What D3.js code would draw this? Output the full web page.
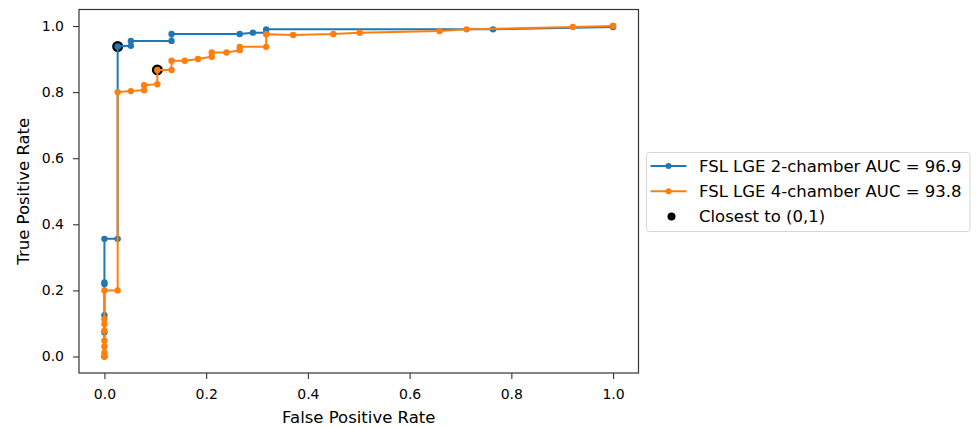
<!DOCTYPE html>
<html lang="en">
<head>
    <meta charset="utf-8">
    <title>ROC curves</title>
    <script src="https://cdn.jsdelivr.net/npm/d3@7"></script>
    <style>
        body {margin: 0; background: #fff;}
        text {font-family: "DejaVu Sans", sans-serif; fill: #000;}
    </style>
</head>
<body>
<script>
    // ROC points
    const fpr2ch = [0, 0, 0, 0, 0, 0, 0.026, 0.026, 0.052, 0.052, 0.132, 0.132, 0.266, 0.292, 0.318, 0.318, 0.764, 1.0, 1.0];
    const tpr2ch = [0, 0.073, 0.125, 0.219, 0.224, 0.356, 0.356, 0.938, 0.94, 0.955, 0.955, 0.976, 0.976, 0.98, 0.98, 0.99, 0.99, 0.997, 1.0];

    const fpr4ch = [0, 0, 0, 0, 0, 0, 0, 0, 0.026, 0.026, 0.052, 0.078, 0.078, 0.104, 0.104, 0.132, 0.132, 0.158, 0.184,
                    0.211, 0.211, 0.24, 0.266, 0.266, 0.318, 0.318, 0.371, 0.45, 0.502, 0.659, 0.712, 0.921, 1.0];
    const tpr4ch = [0, 0.012, 0.03, 0.048, 0.078, 0.098, 0.113, 0.2, 0.2, 0.8, 0.803, 0.806, 0.821, 0.824, 0.867, 0.867, 0.895, 0.895, 0.9,
                    0.907, 0.92, 0.92, 0.927, 0.937, 0.937, 0.975, 0.973, 0.976, 0.98, 0.985, 0.99, 0.997, 1.0];

    // points closest to (0,1)
    const closestFpr = [0.026, 0.104];
    const closestTpr = [0.938, 0.867];

    const seriesNames = ["FSL LGE 2-chamber AUC = 96.9", "FSL LGE 4-chamber AUC = 93.8"];
    const seriesColors = ["#1f77b4", "#ff7f0e"];
    const closestName = "Closest to (0,1)";
    const tickValues = [0, 0.2, 0.4, 0.6, 0.8, 1.0];

    const dim = {width: 977, height: 427};
    const box = {left: 79, right: 638.5, top: 9.5, bottom: 373};

    const x = d3.scaleLinear().domain([-0.05, 1.05]).range([box.left, box.right]);
    const y = d3.scaleLinear().domain([-0.05, 1.05]).range([box.bottom, box.top]);
    const fmt = d3.format(".1f");

    const svg = d3.select("body").append("svg")
                  .attr("width", dim.width)
                  .attr("height", dim.height);

    svg.append("rect").attr("width", dim.width).attr("height", dim.height).attr("fill", "#fff");

    // axes
    const xAxis = svg.append("g")
        .attr("transform", `translate(0, ${box.bottom})`)
        .call(d3.axisBottom(x).tickValues(tickValues).tickFormat(fmt).tickSize(6).tickPadding(10).tickSizeOuter(0));
    const yAxis = svg.append("g")
        .attr("transform", `translate(${box.left}, 0)`)
        .call(d3.axisLeft(y).tickValues(tickValues).tickFormat(fmt).tickSize(6).tickPadding(9).tickSizeOuter(0));

    [xAxis, yAxis].forEach(g => {
        g.select(".domain").remove();
        g.selectAll(".tick line").attr("stroke", "#333").attr("stroke-width", 1.1);
        g.selectAll(".tick text").attr("font-size", 14).attr("fill", "#222")
         .style("font-family", "'DejaVu Sans', sans-serif");
    });

    svg.append("text")
        .attr("x", (box.left + box.right) / 2)
        .attr("y", 423)
        .attr("text-anchor", "middle")
        .attr("font-size", 16.5)
        .text("False Positive Rate");

    svg.append("text")
        .attr("transform", `translate(29, ${(box.top + box.bottom) / 2}) rotate(-90)`)
        .attr("text-anchor", "middle")
        .attr("font-size", 16.5)
        .text("True Positive Rate");

    const plot = svg.append("g");

    // scatter sits below the lines (matplotlib zorder)
    plot.selectAll(".closest")
        .data(d3.zip(closestFpr, closestTpr))
        .join("circle")
          .attr("class", "closest")
          .attr("cx", d => x(d[0]))
          .attr("cy", d => y(d[1]))
          .attr("r", 5.5)
          .attr("fill", "#000");

    const line = d3.line().x(d => x(d[0])).y(d => y(d[1]));
    const curves = [d3.zip(fpr2ch, tpr2ch), d3.zip(fpr4ch, tpr4ch)];

    curves.forEach((pts, i) => {
        const g = plot.append("g");
        g.append("path")
         .attr("d", line(pts))
         .attr("fill", "none")
         .attr("stroke", seriesColors[i])
         .attr("stroke-width", 2);
        g.selectAll("circle")
         .data(pts)
         .join("circle")
           .attr("cx", d => x(d[0]))
           .attr("cy", d => y(d[1]))
           .attr("r", 3.2)
           .attr("fill", seriesColors[i]);
    });

    // frame
    svg.append("rect")
        .attr("x", box.left).attr("y", box.top)
        .attr("width", box.right - box.left).attr("height", box.bottom - box.top)
        .attr("fill", "none").attr("stroke", "#333").attr("stroke-width", 1.2);

    // legend
    const legend = svg.append("g").attr("transform", "translate(646.5, 152.5)");
    legend.append("rect")
        .attr("width", 323.5).attr("height", 79).attr("rx", 3)
        .attr("fill", "#fff").attr("stroke", "#d6d6d6");

    const rowY = i => 13.5 + i * 25.3;
    seriesNames.forEach((name, i) => {
        const row = legend.append("g").attr("transform", `translate(0, ${rowY(i)})`);
        row.append("line").attr("x1", 4).attr("x2", 40)
           .attr("stroke", seriesColors[i]).attr("stroke-width", 2);
        row.append("circle").attr("cx", 22).attr("r", 3).attr("fill", seriesColors[i]);
        row.append("text").attr("x", 52.5).attr("dy", "0.35em").attr("font-size", 16.5).text(name);
    });
    const last = legend.append("g").attr("transform", `translate(0, ${rowY(2)})`);
    last.append("circle").attr("cx", 25).attr("r", 4).attr("fill", "#000");
    last.append("text").attr("x", 52.5).attr("dy", "0.35em").attr("font-size", 16.5).text(closestName);
</script>
</body>
</html>
